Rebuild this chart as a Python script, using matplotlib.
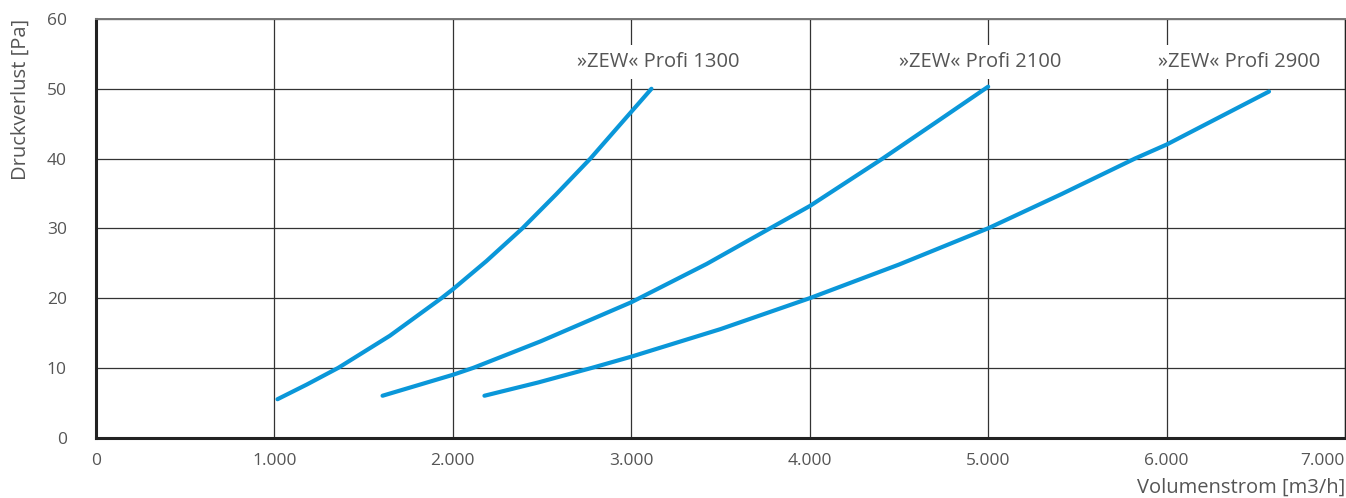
import matplotlib.pyplot as plt

# Volumenstrom [m3/h] vs Druckverlust [Pa]
x_1300 = [1017, 1181, 1358, 1647, 1937, 2002, 2188, 2390, 2580, 2771, 3000, 3113]
y_1300 = [5.5, 7.6, 10.0, 14.6, 20.0, 21.3, 25.3, 30.0, 34.9, 40.0, 46.7, 50.0]

x_2100 = [1606, 2000, 2115, 2492, 3000, 3423, 3778, 4001, 4409, 4708, 5000]
y_2100 = [6.0, 9.0, 10.0, 13.8, 19.4, 24.9, 30.0, 33.2, 40.0, 45.2, 50.3]

x_2900 = [2177, 2478, 2780, 3000, 3500, 4002, 4500, 5000, 5411, 5823, 6000, 6574]
y_2900 = [6.0, 7.9, 10.0, 11.6, 15.55, 20.0, 24.8, 30.0, 34.9, 40.0, 42.0, 49.6]

names = ['»ZEW« Profi 1300', '»ZEW« Profi 2100', '»ZEW« Profi 2900']
label_x = [3609, 5413, 6859]
label_y = 53.8

x_ticks = [0, 1000, 2000, 3000, 4000, 5000, 6000, 7000]
x_ticklabels = ['0', '1.000', '2.000', '3.000', '4.000', '5.000', '6.000', '7.000']
y_ticks = [0, 10, 20, 30, 40, 50, 60]

plt.rcParams['font.family'] = ['Open Sans', 'DejaVu Sans']
blue = '#0a97d9'
grey = '#555555'

fig = plt.figure(figsize=(13.46, 4.98), dpi=100)
ax = fig.add_axes([96 / 1346, 1 - 437.6 / 498, 1249 / 1346, (437.6 - 19) / 498])

for xs, ys in [(x_1300, y_1300), (x_2100, y_2100), (x_2900, y_2900)]:
    ax.plot(xs, ys, color=blue, lw=3.0, solid_capstyle='round',
            solid_joinstyle='round', zorder=3)

for name, lx in zip(names, label_x):
    ax.text(lx, label_y, name, ha='right', va='center', fontsize=14.5, color=grey,
            bbox=dict(facecolor='white', edgecolor='none', pad=5), zorder=4)

ax.set_xlim(0, 7000)
ax.set_ylim(0, 60)
ax.set_xticks(x_ticks)
ax.set_xticklabels(x_ticklabels)
ax.get_xticklabels()[-1].set_horizontalalignment('right')
ax.set_yticks(y_ticks)
ax.grid(True, color='#333333', lw=0.9, zorder=1)
ax.set_axisbelow(True)
ax.tick_params(length=0, labelsize=12.5, labelcolor=grey)
ax.tick_params(axis='x', pad=11)
ax.tick_params(axis='y', pad=21)

ax.spines['left'].set_linewidth(2.2)
ax.spines['bottom'].set_linewidth(2.2)
ax.spines['left'].set_color('#222222')
ax.spines['bottom'].set_color('#222222')
ax.spines['top'].set_color('#777777')
ax.spines['top'].set_linewidth(1.4)
ax.spines['right'].set_color('#222222')
ax.spines['right'].set_linewidth(1.0)

ax.set_xlabel('Volumenstrom [m3/h]', loc='right', fontsize=14.5, color=grey)
ax.xaxis.set_label_coords(1.0, -0.095)
ax.set_ylabel('Druckverlust [Pa]', loc='top', fontsize=14.5, color=grey)
ax.yaxis.set_label_coords(-0.052, 1.0)

fig.savefig('out.png', dpi=100)
